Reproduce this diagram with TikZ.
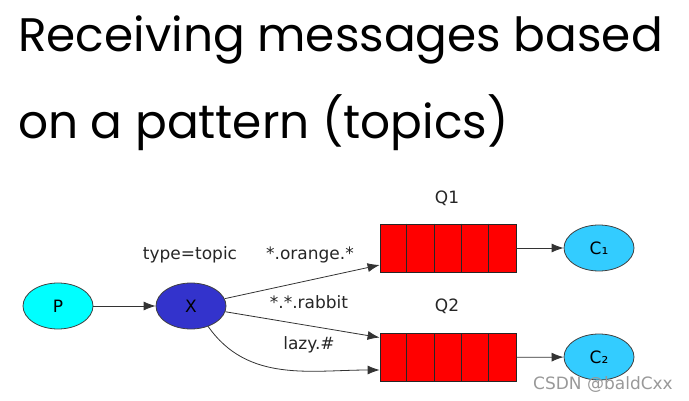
\documentclass[tikz,border=0pt]{standalone}
\usepackage{fontspec}
\setmainfont{DejaVu Sans}
\newfontfamily\titlefont{Poppins}
\usepackage{tikz}
\usetikzlibrary{arrows.meta, positioning, shapes.geometric}

\definecolor{pcyan}{RGB}{0,255,255}
\definecolor{xblue}{RGB}{51,51,204}
\definecolor{cblue}{RGB}{51,204,255}
\definecolor{qred}{RGB}{255,0,0}

\begin{document}
\begin{tikzpicture}[
  x=1pt, y=-1pt,
  every node/.style={font=\fontsize{17}{20}\selectfont},
  ell/.style={draw=black!75, ellipse, thick, minimum width=70pt,
              minimum height=46pt, inner sep=0pt},
  queue/.style={draw=black!85, thick, fill=qred, minimum width=136pt,
                minimum height=48pt, inner sep=0pt},
  lbl/.style={text=black!85},
  arr/.style={-{Latex[length=12pt,width=9pt]}, thick, draw=black!80},
]
  \useasboundingbox (0,0) rectangle (689,401);

  % title
  \node[anchor=base west, inner sep=0pt,
        font=\titlefont\fontsize{47}{55}\selectfont] (t1) at (18,52)
       {Receiving messages based};
  \node[anchor=base west, inner sep=0pt,
        font=\titlefont\fontsize{47}{55}\selectfont] (t2) at (18,139)
       {on a pattern (topics)};

  % producer and exchange
  \node[ell, fill=pcyan] (p) at (58,306) {P};
  \node[ell, fill=xblue] (x) at (191,306) {X};
  \node[lbl] (xt) at (190,255) {type=topic};
  \draw[arr] (p) -- (x);

  % queues
  \node[queue] (q1) at (448,248) {};
  \node[queue] (q2) at (448,357.5) {};
  \foreach \q in {q1,q2}
    \foreach \i in {1,...,4}
      \draw[black!85, thick] ([xshift=\i*27.2pt]\q.north west)
           -- ([xshift=\i*27.2pt]\q.south west);
  \node[lbl] (q1t) at (447,198) {Q1};
  \node[lbl] (q2t) at (447,306) {Q2};

  % bindings
  \draw[arr] (x) -- ([yshift=-17pt]q1.west);
  \node[lbl] (b1) at (310,255) {*.orange.*};
  \draw[arr] (x) -- ([yshift=20pt]q2.west);
  \node[lbl] (b2) at (309,302) {*.*.rabbit};
  \draw[arr] (x.-50) to[out=-55, in=180] ([yshift=-12.5pt]q2.west);
  \node[lbl] (b3) at (309,345) {lazy.\#};

  % consumers
  \node[ell, fill=cblue] (c1) at (599,248) {C₁};
  \node[ell, fill=cblue] (c2) at (599,357) {C₂};
  \draw[arr] (q1) -- (c1);
  \draw[arr] (q2) -- (c2);

  \node[text=black!40, font=\fontsize{17}{20}\selectfont] (wm) at (603,385)
       {CSDN @baldCxx};
\end{tikzpicture}
\end{document}
